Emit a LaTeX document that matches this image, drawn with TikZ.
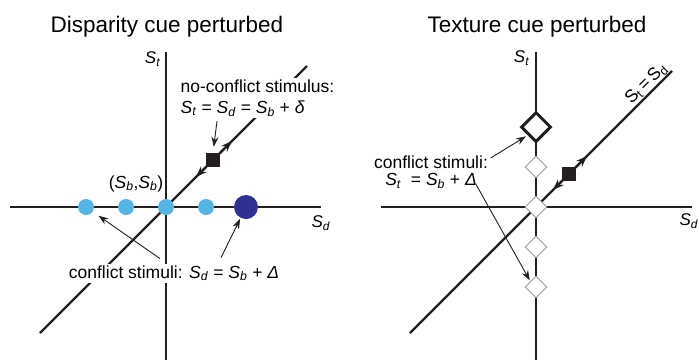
\documentclass[tikz,border=0pt]{standalone}
\usepackage{fontspec}
\setmainfont{Liberation Sans}
\usetikzlibrary{arrows.meta,shapes.geometric}

\definecolor{cuelight}{HTML}{52B5E3}
\definecolor{cuedark}{HTML}{2E3192}
\definecolor{inkblack}{HTML}{231F20}
\definecolor{diamgray}{HTML}{9A9A9A}

\newcommand{\Sv}[1]{\textit{S}\textsubscript{\textit{#1}}}
\newcommand{\titlefont}{\fontsize{22.5}{27}\selectfont}
\newcommand{\labelfont}{\fontsize{17.5}{21}\selectfont}
\newcommand{\axisfont}{\fontsize{17}{20}\selectfont}

\tikzset{
  axisline/.style={line width=2.3pt, inkblack},
  pointer/.style={->, line width=0.9pt, inkblack},
  cuedot/.style={circle, fill=cuelight, inner sep=0pt, minimum size=16pt},
  bigdot/.style={circle, fill=cuedark, inner sep=0pt, minimum size=24pt},
  stimsq/.style={rectangle, fill=inkblack, inner sep=0pt, minimum size=14pt},
  smalldiam/.style={diamond, draw=diamgray, line width=0.9pt, fill=white, inner sep=0pt, minimum size=22pt},
  bigdiam/.style={diamond, draw=inkblack, line width=3pt, fill=white, inner sep=0pt, minimum size=30pt},
  textbox/.style={fill=white, inner sep=1.5pt, font=\labelfont},
}

\begin{document}
\begin{tikzpicture}[>={Stealth[length=10pt,width=7pt]}, x=1pt, y=-1pt]
  \useasboundingbox (0,0) rectangle (699,360);

  % Titles
  \node[font=\titlefont, anchor=base] (titleL) at (167,32) {Disparity cue perturbed};
  \node[font=\titlefont, anchor=base] (titleR) at (537,32) {Texture cue perturbed};

  %% Left panel: disparity cue perturbed
  % axes and the S_t = S_d line
  \draw[axisline] (166,52) -- (166,360);
  \draw[axisline] (10,207) -- (321,207);
  \draw[axisline] (40,333) -- (307,66);
  \node[font=\axisfont, anchor=east] (StL) at (164,59) {\Sv{t}};
  \node[font=\axisfont] (SdL) at (321,223) {\Sv{d}};

  % conflict stimuli (light) and the largest conflict (dark)
  \foreach \i in {0,...,3} {
    \node[cuedot] (cL\i) at (86+40*\i,207) {};
  }
  \node[bigdot] (cLbig) at (246,207) {};

  % no-conflict stimulus moving along the diagonal
  \node[stimsq] (sqL) at (213,160) {};
  \coordinate (upL) at (232,141);
  \coordinate (dnL) at (196,177);
  \draw[->, axisline, >={Stealth[length=11pt,width=8pt]}] (sqL) -- (upL);
  \draw[->, axisline, >={Stealth[length=11pt,width=8pt]}] (sqL) -- (dnL);

  % labels
  \node[textbox, align=left, anchor=north west] (noconf) at (179,78)
    {no-conflict stimulus:\\ \Sv{t} = \Sv{d} = \Sv{b} + \textit{δ}};
  \node[textbox, anchor=base] (confL) at (174,278)
    {conflict stimuli: \Sv{d} = \Sv{b} + \textit{Δ}};
  \node[font=\labelfont, anchor=base] (pairL) at (136,188) {(\Sv{b},\Sv{b})};

  \draw[pointer, shorten >=6pt] ([xshift=38pt,yshift=-3pt]noconf.south west) -- (sqL.north);
  \draw[pointer, shorten >=7pt] ([xshift=-14pt,yshift=5pt]confL.north) -- (cL0);
  \draw[pointer, shorten >=1pt] ([xshift=47pt,yshift=6pt]confL.north) -- (cLbig);

  %% Right panel: texture cue perturbed
  \draw[axisline] (536,52) -- (536,360);
  \draw[axisline] (381,207) -- (692,207);
  \draw[axisline] (410,333) -- (672,71) coordinate (diagEnd);
  \node[font=\axisfont, anchor=east] (StR) at (533,58) {\Sv{t}};
  \node[font=\axisfont] (SdR) at (689,221) {\Sv{d}};
  \node[font=\labelfont, rotate=45, anchor=south east, inner sep=1.5pt] (diagLab) at (diagEnd)
    {S\textsubscript{t}\,=\,S\textsubscript{d}};

  % conflict stimuli on the S_t axis
  \foreach \j in {0,...,3} {
    \node[smalldiam] (dR\j) at (536,287-40*\j) {};
  }
  \node[bigdiam] (dRbig) at (536,127) {};

  % no-conflict stimulus
  \node[stimsq] (sqR) at (569,174) {};
  \coordinate (upR) at (587,156);
  \coordinate (dnR) at (553,190);
  \draw[->, axisline, >={Stealth[length=11pt,width=8pt]}] (sqR) -- (upR);
  \draw[->, axisline, >={Stealth[length=11pt,width=8pt]}] (sqR) -- (dnR);

  \node[textbox, align=center, anchor=north, font=\fontsize{17.5}{17.5}\selectfont] (confR) at (431,154)
    {conflict stimuli:\\ \Sv{t}~ = \Sv{b} + \textit{Δ}};
  \draw[pointer, shorten >=2pt] ([xshift=1pt,yshift=-4pt]confR.north east) -- (dRbig.south west);
  \draw[pointer, shorten >=1pt] ([xshift=-14pt,yshift=7pt]confR.south east) -- (dR0.north west);
\end{tikzpicture}
\end{document}
